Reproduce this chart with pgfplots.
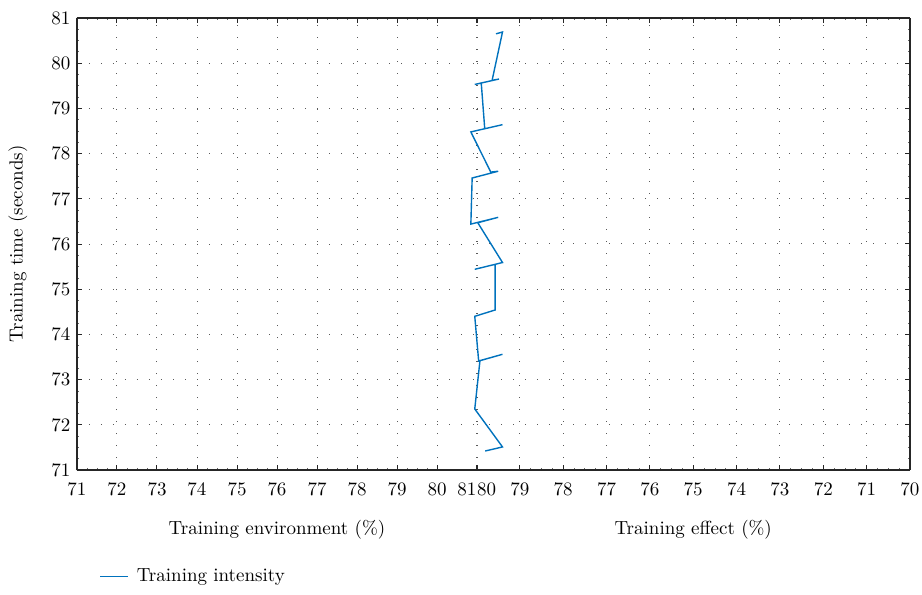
\documentclass[border=0pt]{standalone}
\usepackage{pgfplots}
\pgfplotsset{compat=1.18}

\definecolor{lineblue}{RGB}{0,114,189}
\definecolor{gridgray}{RGB}{90,90,90}

% zigzag (x in the reversed "Training effect" axis)
\pgfplotstableread{
x y
79.55 80.65
79.40 80.69
79.64 79.62
79.48 79.65
80.04 79.53
79.89 79.56
79.81 78.55
79.40 78.64
80.13 78.48
79.67 77.59
79.50 77.61
80.10 77.46
80.13 76.44
79.50 76.59
79.97 76.47
79.40 75.59
80.04 75.44
79.57 75.55
79.57 74.54
80.04 74.40
79.95 73.41
79.40 73.56
79.92 73.42
80.04 72.35
79.40 71.51
79.80 71.42
}\intensity

\pgfplotsset{
  common/.style={
    scale only axis,
    height=226pt,
    ymin=71, ymax=81,
    ytick={71,...,81},
    minor tick num=3,
    tick align=inside,
    major tick length=2.5pt,
    minor tick length=1pt,
    xmajorgrids, ymajorgrids,
    grid style={gridgray, line width=0.5pt, dash pattern=on 0.5pt off 5.5pt},
    axis line style={line width=0.6pt, black!85},
    every tick/.style={black!85, line width=0.5pt},
    minor tick style={black!60, line width=0.4pt},
    xticklabel style={yshift=-3pt},
    /pgf/number format/assume math mode=true,
    every axis x label/.style={at={(axis description cs:0.5,0)}, anchor=center, yshift=-30pt},
    clip=false,
  },
}

\begin{document}
\fontsize{9.5}{11}\selectfont
\begin{tikzpicture}
\path[use as bounding box] (-38.5pt,-62.5pt) rectangle (422.5pt,235pt);

\begin{axis}[
common,
at={(0pt,0pt)}, anchor=south west,
width=200pt,
xmin=71, xmax=81,
xtick={71,...,80},
extra x ticks={81},
extra x tick style={xticklabel style={anchor=north east, xshift=3pt}},
axis x line*=box, axis y line*=left,
xlabel={Training environment (\%)},
ylabel={Training time (seconds)},
every axis y label/.style={at={(axis description cs:-0.1475,0.5)}, rotate=90, anchor=center},
legend style={draw=none, fill=none, at={(axis description cs:0.04,-0.235)}, anchor=west,
  legend cell align=left},
legend image code/.code={\draw[#1] (0pt,0pt) -- (14pt,0pt); \path (16pt,0pt);},
]
\addlegendimage{lineblue, line width=0.7pt}
\addlegendentry{Training intensity}
\end{axis}

\begin{axis}[
common,
at={(199.75pt,0pt)}, anchor=south west,
width=216.75pt,
x dir=reverse,
xmin=70, xmax=80,
xtick={70,...,79},
extra x ticks={80},
extra x tick style={xticklabel style={anchor=north west, xshift=-3pt}},
axis x line*=box, axis y line*=right,
yticklabels={},
xlabel={Training effect (\%)},
]
\addplot [lineblue, line width=0.7pt] table[x=x, y=y] {\intensity};
\end{axis}

\end{tikzpicture}
\end{document}
